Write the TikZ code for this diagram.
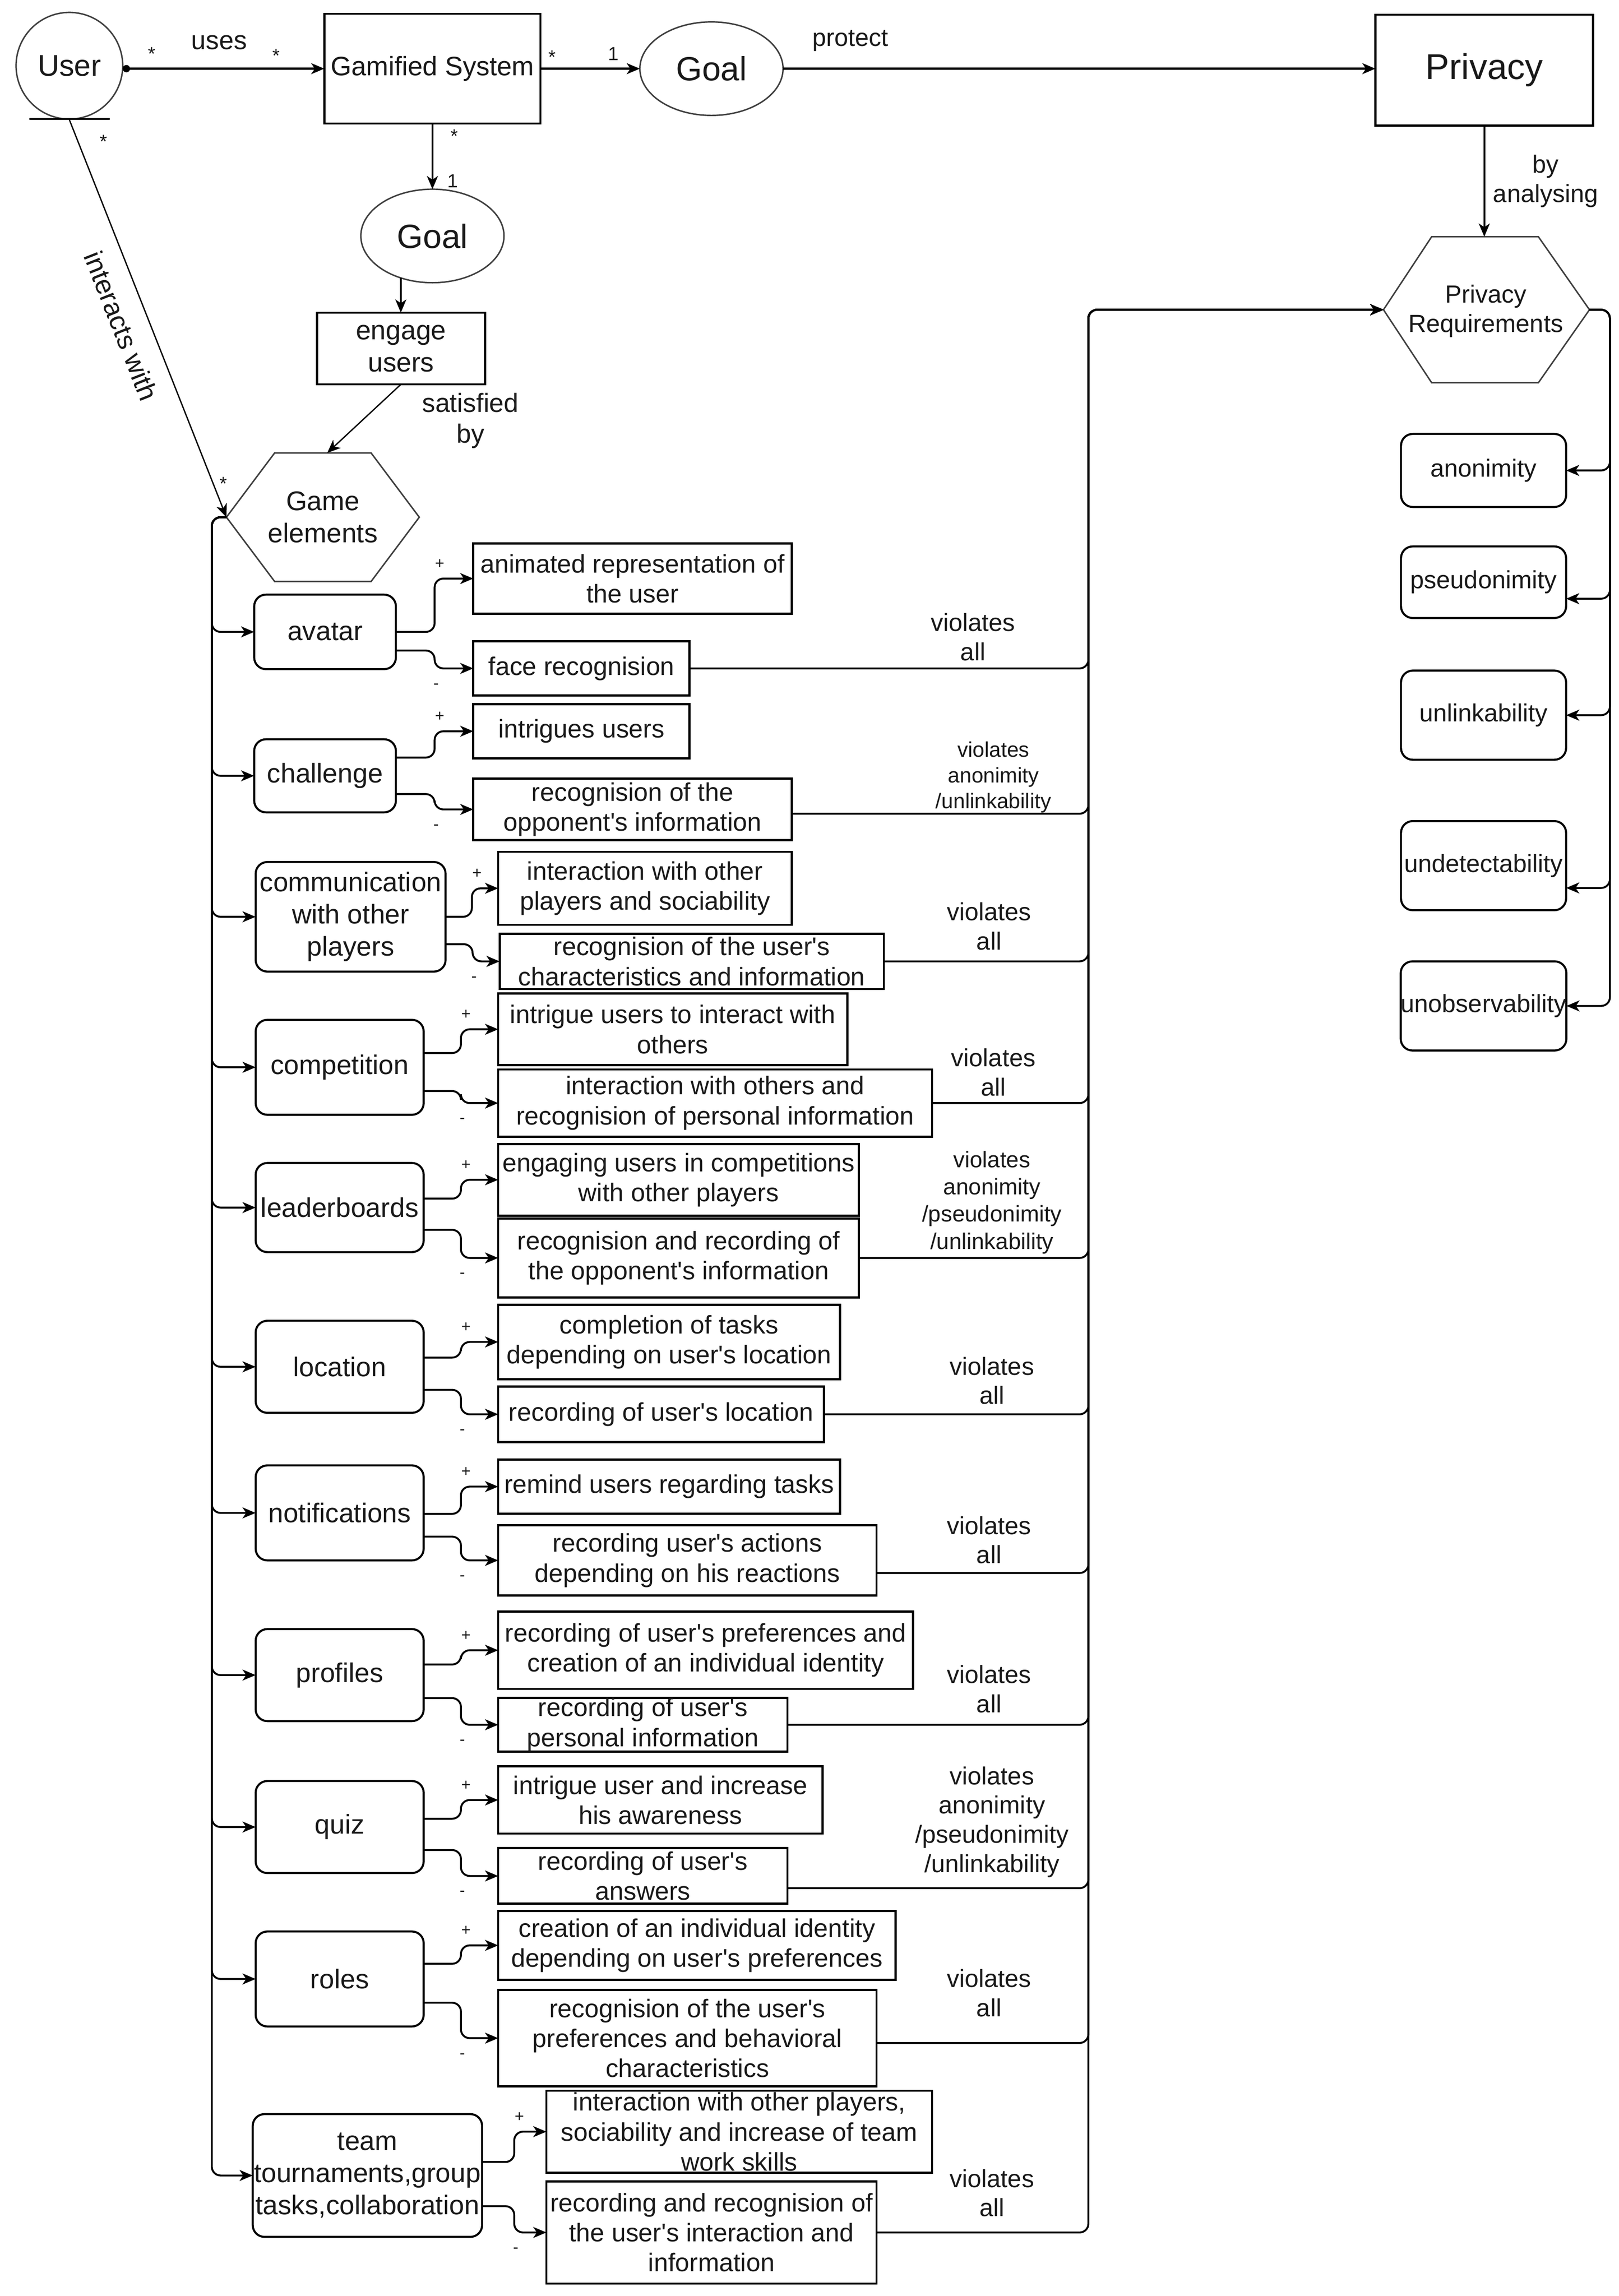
\documentclass[tikz,border=0pt]{standalone}
\usepackage{fontspec}
\setmainfont{Liberation Sans}[Ligatures=TeXOff]
\usetikzlibrary{arrows.meta,calc,shapes.geometric}
\newcommand{\fzA}{\fontsize{18.5}{22}\selectfont}
\newcommand{\fzB}{\fontsize{17.5}{20.5}\selectfont}
\newcommand{\fzC}{\fontsize{17}{20}\selectfont}
\newcommand{\fzD}{\fontsize{14.5}{17.6}\selectfont}
\newcommand{\fzE}{\fontsize{15.5}{18.6}\selectfont}
\newcommand{\fzS}{\fontsize{13}{14}\selectfont}
\newcommand{\fzP}{\fontsize{11}{13}\selectfont}
\newcommand{\fzG}{\fontsize{23}{27}\selectfont}
\newcommand{\fzU}{\fontsize{20.5}{24}\selectfont}
\newcommand{\fzV}{\fontsize{24.5}{29}\selectfont}
\newcommand{\fzGS}{\fontsize{18.3}{22}\selectfont}
\tikzset{
  every node/.style={inner sep=0pt, outer sep=0pt, text=black!90, align=center},
  elem/.style={draw, rounded corners=8pt, line width=1.4pt, font=\fzA},
  child/.style={draw, line width=1.5pt, font=\fzB},
  req/.style={draw, rounded corners=8pt, line width=1.4pt, font=\fzC},
  thinshape/.style={draw=black!75, line width=1pt},
  tip/.tip={Stealth[length=9pt,width=7.5pt,inset=2.5pt]},
  conn/.style={line width=1.3pt, rounded corners=6pt, -tip},
  arr/.style={line width=1.3pt, -tip},
  thinarr/.style={line width=0.9pt, -tip},
  vl/.style={font=\fzC},
  lbl/.style={font=\fzC},
  star/.style={font=\fzS},
  pml/.style={font=\fzP},
}
\newcommand{\linkplus}[3]{%
  \path ($(#1.north east)!#3!(#1.south east)$) coordinate (s#2)
        ($(#1.east)!0.5!(#2.west)$) coordinate (m#2);
  \draw[conn] (s#2) -- (s#2 -| m#2) |- (#2.west);
  \node[pml] (p#2) at ($(m#2 |- #2.west)+(3.5,-10)$) {+};
}
\newcommand{\linkminus}[3]{%
  \path ($(#1.north east)!#3!(#1.south east)$) coordinate (s#2)
        ($(#1.east)!0.5!(#2.west)$) coordinate (m#2);
  \draw[conn] (s#2) -- (s#2 -| m#2) |- (#2.west);
  \node[pml] (p#2) at ($(m#2 |- #2.west)+(1,12)$) {-};
}
\newcommand{\linkviol}[2]{%
  \draw[conn] ($(#1.north east)!#2!(#1.south east)$) -| (busTop) -- (PRw);
}
\newcommand{\linkreq}[2]{%
  \draw[conn] (PRe) -- (PRbus) |- ($(#1.north east)!#2!(#1.south east)$);
}
\begin{document}
\begin{tikzpicture}[x=1pt,y=-1pt]
\fill[white] (0,0) rectangle (1108,1571.5);
\useasboundingbox (0,0) rectangle (1108,1571.5);

% ---------- top row ----------
\node[circle, thinshape, minimum size=73, font=\fzU] (User) at (47.5,45) {User};
\draw[line width=1.2pt] (20,81.5) -- (75,81.5);
\coordinate (Ubot) at (47.5,82);
\node[draw, line width=1.4pt, minimum width=148, minimum height=75, font=\fzGS] (GS) at (296,47) {Gamified System};
\node[ellipse, thinshape, minimum width=98, minimum height=64, font=\fzG] (Goal1) at (487,47) {Goal};
\node[draw, line width=1.4pt, minimum width=149, minimum height=76, font=\fzV] (Priv) at (1016,48) {Privacy};

\draw[line width=1.3pt, {Circle[length=5pt]}-tip] (User.east |- GS.west) -- (GS.west);
\node[star] (s1) at (104,37) {*};
\node[lbl, font=\fontsize{18}{21}\selectfont] (uses) at (150,29) {uses};
\node[star] (s2) at (189,38) {*};

\draw[arr] (GS.east) -- (Goal1.west);
\node[star] (s3) at (378,39) {*};
\node[star] (one1) at (420,37) {1};

\draw[arr] (Goal1.east) -- (Goal1.east -| Priv.west);
\node[lbl] (protect) at (582,28) {protect};

% ---------- privacy requirements ----------
\draw[thinshape] (947,212) -- (980,162) -- (1053,162) -- (1088,212) -- (1053,262) -- (980,262) -- cycle;
\node[font=\fzC] (PR) at (1017,213) {Privacy\\Requirements};
\coordinate (PRw) at (947,212);
\coordinate (PRe) at (1088,212);
\coordinate (PRtop) at (1016,162);
\coordinate (PRbus) at (1102,212);
\coordinate (busTop) at (745,212);

\draw[arr] (Priv.south) -- (PRtop);
\node[lbl] (byan) at (1058,124) {by\\analysing};

\node[req, minimum width=113, minimum height=50] (anon) at (1015.5,322) {anonimity};
\node[req, minimum width=113, minimum height=49] (pseudo) at (1015.5,398.5) {pseudonimity};
\node[req, minimum width=113, minimum height=61] (unlink) at (1015.5,489.5) {unlinkability};
\node[req, minimum width=113, minimum height=61] (undet) at (1015.5,592.5) {undetectability};
\node[req, minimum width=113, minimum height=61] (unobs) at (1015.5,688.5) {unobservability};
\linkreq{anon}{0.5}
\linkreq{pseudo}{0.73}
\linkreq{unlink}{0.5}
\linkreq{undet}{0.75}
\linkreq{unobs}{0.5}

% ---------- goal 2 / engage ----------
\node[ellipse, thinshape, minimum width=98, minimum height=64, font=\fzG] (Goal2) at (296,161.5) {Goal};
\draw[arr] (GS.south) -- (Goal2.north);
\node[star] (s4) at (311,93) {*};
\node[star] (one2) at (310,124) {1};

\node[draw, line width=1.4pt, minimum width=115, minimum height=49, font=\fzA] (engage) at (274.5,238.5) {engage\\users};
\draw[arr] (Goal2.233) -- (Goal2.233 |- engage.north);

% ---------- game elements ----------
\draw[thinshape] (155,354) -- (188,310) -- (254,310) -- (287,354) -- (254,398) -- (188,398) -- cycle;
\node[font=\fzA] (GE) at (221,354) {Game\\elements};
\coordinate (GEw) at (155,354);
\coordinate (GEtop) at (224,310);
\coordinate (GEbus) at (145,354);

\draw[thinarr] (engage.south) -- (GEtop);
\node[font=\fontsize{18}{21}\selectfont] (satby) at (322,288) {satisfied\\by};

\draw[thinarr] (Ubot) -- (GEw);
\node[rotate=-68.4, font=\fontsize{18.5}{22}\selectfont] (intw) at (83,223) {interacts with};
\node[star] (s5) at (71,97) {*};
\node[star] (s6) at (153,331) {*};

% ---------- element boxes ----------
\node[elem, minimum width=97, minimum height=51] (avatar) at (222.5,432.5) {avatar};
\node[elem, minimum width=97, minimum height=50] (challenge) at (222.5,531) {challenge};
\node[elem, minimum width=130, minimum height=75] (comm) at (240,627.5) {communication\\with other\\players};
\node[elem, minimum width=115, minimum height=65] (compet) at (232.5,730.5) {competition};
\node[elem, minimum width=115, minimum height=61] (leader) at (232.5,826.5) {leaderboards};
\node[elem, minimum width=115, minimum height=63] (locat) at (232.5,935.5) {location};
\node[elem, minimum width=115, minimum height=65] (notif) at (232.5,1035.5) {notifications};
\node[elem, minimum width=115, minimum height=63] (profil) at (232.5,1146.5) {profiles};
\node[elem, minimum width=115, minimum height=63] (quiz) at (232.5,1250.5) {quiz};
\node[elem, minimum width=115, minimum height=65] (roles) at (232.5,1354.5) {roles};
\node[elem, minimum width=157, minimum height=84] (team) at (251.5,1489) {team\\tournaments,group\\tasks,collaboration};

\foreach \e in {avatar,challenge,comm,compet,leader,locat,notif,profil,quiz,roles,team}
  \draw[conn] (GEw) -- (GEbus) |- (\e.west);

% ---------- children ----------
\node[child, minimum width=218, minimum height=48] (avP) at (433,396) {animated representation of\\the user};
\node[child, minimum width=148, minimum height=37] (avM) at (398,457.5) {face recognision};
\node[child, minimum width=148, minimum height=37] (chP) at (398,500.5) {intrigues users};
\node[child, minimum width=218, minimum height=42] (chM) at (433,554) {recognision of the\\opponent's information};
\node[child, minimum width=201, minimum height=50] (coP) at (441.5,608) {interaction with other\\players and sociability};
\node[child, minimum width=263, minimum height=38] (coM) at (473.5,658) {recognision of the user's\\characteristics and information};
\node[child, minimum width=239, minimum height=49] (cpP) at (460.5,704.5) {intrigue users to interact with\\others};
\node[child, minimum width=297, minimum height=46] (cpM) at (489.5,755) {interaction with others and\\recognision of personal information};
\node[child, minimum width=247, minimum height=49] (lbP) at (464.5,807.5) {engaging users in competitions\\with other players};
\node[child, minimum width=247, minimum height=54] (lbM) at (464.5,861) {recognision and recording of\\the opponent's information};
\node[child, minimum width=234, minimum height=51] (loP) at (458,918.5) {completion of tasks\\depending on user's location};
\node[child, minimum width=223, minimum height=38] (loM) at (452.5,968) {recording of user's location};
\node[child, minimum width=234, minimum height=37] (noP) at (458,1017.5) {remind users regarding tasks};
\node[child, minimum width=259, minimum height=48] (noM) at (470.5,1068) {recording user's actions\\depending on his reactions};
\node[child, minimum width=284, minimum height=53] (prP) at (483,1129.5) {recording of user's preferences and\\creation of an individual identity};
\node[child, minimum width=198, minimum height=37] (prM) at (440,1180.5) {recording of user's\\personal information};
\node[child, minimum width=222, minimum height=46] (quP) at (452,1232) {intrigue user and increase\\his awareness};
\node[child, minimum width=198, minimum height=38] (quM) at (440,1284) {recording of user's\\answers};
\node[child, minimum width=272, minimum height=47] (roP) at (477,1331.5) {creation of an individual identity\\depending on user's preferences};
\node[child, minimum width=259, minimum height=66] (roM) at (470.5,1395) {recognision of the user's\\preferences and behavioral\\characteristics};
\node[child, minimum width=264, minimum height=56] (teP) at (506,1459) {interaction with other players,\\sociability and increase of team\\work skills};
\node[child, minimum width=226, minimum height=70] (teM) at (487,1528) {recording and recognision of\\the user's interaction and\\information};

% ---------- +/- links ----------
\linkplus{avatar}{avP}{0.5}
\linkminus{avatar}{avM}{0.75}
\linkplus{challenge}{chP}{0.25}
\linkminus{challenge}{chM}{0.75}
\linkplus{comm}{coP}{0.5}
\linkminus{comm}{coM}{0.75}
\linkplus{compet}{cpP}{0.35}
\linkminus{compet}{cpM}{0.75}
\linkplus{leader}{lbP}{0.40}
\linkminus{leader}{lbM}{0.75}
\linkplus{locat}{loP}{0.40}
\linkminus{locat}{loM}{0.75}
\linkplus{notif}{noP}{0.51}
\linkminus{notif}{noM}{0.75}
\linkplus{profil}{prP}{0.385}
\linkminus{profil}{prM}{0.75}
\linkplus{quiz}{quP}{0.41}
\linkminus{quiz}{quM}{0.75}
\linkplus{roles}{roP}{0.34}
\linkminus{roles}{roM}{0.75}
\linkplus{team}{teP}{0.39}
\linkminus{team}{teM}{0.75}

% ---------- violation links ----------
\linkviol{avM}{0.5}
\linkviol{chM}{0.57}
\linkviol{coM}{0.5}
\linkviol{cpM}{0.5}
\linkviol{lbM}{0.5}
\linkviol{loM}{0.5}
\linkviol{noM}{0.68}
\linkviol{prM}{0.5}
\linkviol{quM}{0.72}
\linkviol{roM}{0.55}
\linkviol{teM}{0.5}

\node[vl] (v1) at (666,436) {violates\\all};
\node[vl, font=\fzD] (v2) at (680,532) {violates\\anonimity\\/unlinkability};
\node[vl] (v3) at (677,634) {violates\\all};
\node[vl] (v4) at (680,734) {violates\\all};
\node[vl, font=\fzE] (v5) at (679,823) {violates\\anonimity\\/pseudonimity\\/unlinkability};
\node[vl] (v6) at (679,945) {violates\\all};
\node[vl] (v7) at (677,1054) {violates\\all};
\node[vl] (v8) at (677,1156) {violates\\all};
\node[vl] (v9) at (679,1247) {violates\\anonimity\\/pseudonimity\\/unlinkability};
\node[vl] (v10) at (677,1364) {violates\\all};
\node[vl] (v11) at (679,1501) {violates\\all};
\end{tikzpicture}
\end{document}
